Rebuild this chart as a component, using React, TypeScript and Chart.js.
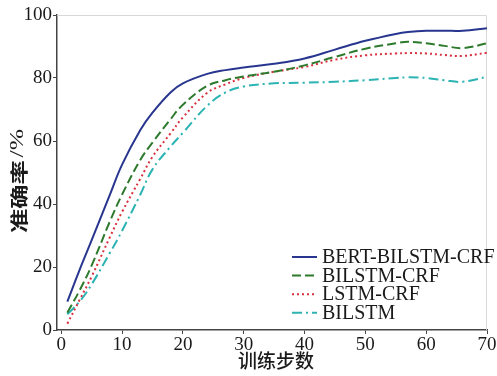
import React, { useEffect, useRef } from "react";
import { Chart, registerables } from "chart.js";

Chart.register(...registerables);

const steps = [1, 3, 5, 8, 10, 13, 15, 18, 20, 24, 27, 30, 35, 40, 45, 50, 55, 57, 60, 63, 66, 70];
const bertBilstmCrf = [9, 19, 28.5, 43, 52.5, 63.5, 69, 75.5, 78.3, 81.3, 82.5, 83.3, 84.5, 86.2, 89, 91.8, 94, 94.6, 95, 95, 95, 95.8];
const bilstmCrf = [5.5, 12.5, 20.5, 34.5, 43, 54, 59.5, 67, 71.5, 77.5, 79.3, 80.5, 82, 84, 86.7, 89.3, 91, 91.5, 91, 90.2, 89.5, 91];
const lstmCrf = [2, 9.5, 17, 29.5, 37.5, 48, 55, 62.5, 67.5, 75.3, 78, 80, 82, 83.5, 85.8, 87.2, 87.8, 87.9, 87.8, 87.3, 87, 88];
const bilstm = [5, 9, 14.5, 24.5, 31.5, 43, 51, 58.3, 62.6, 71.2, 75.4, 77.3, 78.3, 78.5, 78.8, 79.3, 80, 80.2, 80, 79.3, 78.8, 80.4];

const seriesNames = ["BERT-BILSTM-CRF", "BILSTM-CRF", "LSTM-CRF", "BILSTM"];
const xTicks = [0, 10, 20, 30, 40, 50, 60, 70];
const yTicks = [0, 20, 40, 60, 80, 100];
const xTitle = "训练步数";
const yTitleMain = "准确率";
const yTitleUnit = "/%";

const SERIF = "'Liberation Serif', 'Times New Roman', serif";
const CJK = "'Noto Sans CJK SC', 'Liberation Serif', sans-serif";

export default function App() {
  const ref = useRef<HTMLCanvasElement | null>(null);

  useEffect(() => {
    document.body.style.margin = "0";
    const canvas = ref.current;
    if (!canvas) return;

    const styles = [
      { color: "#28368f", dash: [] as number[] },
      { color: "#2d7a2d", dash: [9, 4] },
      { color: "#d9303e", dash: [2, 3] },
      { color: "#2cb3b3", dash: [10, 4, 2, 4] },
    ];
    const values = [bertBilstmCrf, bilstmCrf, lstmCrf, bilstm];

    const datasets = values.map((vals, i) => ({
      label: seriesNames[i],
      data: steps.map((s, j) => ({ x: s, y: vals[j] })),
      borderColor: styles[i].color,
      backgroundColor: styles[i].color,
      borderDash: styles[i].dash,
      borderWidth: 2,
      pointRadius: 0,
      tension: 0.4,
      fill: false,
    }));

    const decor = {
      id: "decor",
      beforeDatasetsDraw(chart: any) {
        const { ctx, chartArea: a } = chart;
        ctx.save();
        ctx.strokeStyle = "#d8d8d8";
        ctx.lineWidth = 1;
        ctx.beginPath();
        ctx.moveTo(a.left, a.top + 0.5);
        ctx.lineTo(a.right - 0.5, a.top + 0.5);
        ctx.lineTo(a.right - 0.5, a.bottom);
        ctx.stroke();
        ctx.restore();
      },
      afterDraw(chart: any) {
        const { ctx, chartArea: a } = chart;
        ctx.save();
        // x axis title
        ctx.fillStyle = "#1a1a1a";
        ctx.textAlign = "center";
        ctx.textBaseline = "middle";
        ctx.font = `500 19px ${CJK}`;
        ctx.fillText(xTitle, (a.left + a.right) / 2 + 4, 361);
        // y axis title (rotated, stretched along the text direction)
        ctx.save();
        ctx.translate(19, 181);
        ctx.rotate(-Math.PI / 2);
        ctx.scale(1.35, 1);
        ctx.font = `bold 18px ${CJK}`;
        const wMain = ctx.measureText(yTitleMain).width;
        ctx.font = `19px ${SERIF}`;
        const wUnit = ctx.measureText(yTitleUnit).width;
        const total = wMain + 2 + wUnit;
        ctx.textAlign = "left";
        ctx.font = `bold 18px ${CJK}`;
        ctx.fillText(yTitleMain, -total / 2, 0);
        ctx.font = `19px ${SERIF}`;
        ctx.fillText(yTitleUnit, -total / 2 + wMain + 2, -1);
        ctx.restore();
        // legend
        const ds = chart.data.datasets;
        ctx.font = `20px ${SERIF}`;
        ctx.textAlign = "left";
        for (let i = 0; i < ds.length; i++) {
          const y = 257 + i * 18.6;
          ctx.save();
          ctx.strokeStyle = ds[i].borderColor;
          ctx.lineWidth = 2;
          ctx.setLineDash(ds[i].borderDash || []);
          ctx.beginPath();
          ctx.moveTo(292, y);
          ctx.lineTo(317, y);
          ctx.stroke();
          ctx.restore();
          ctx.fillStyle = "#1a1a1a";
          ctx.fillText(ds[i].label, 322, y + 1);
        }
        ctx.restore();
      },
    };

    const chart = new Chart(canvas, {
      type: "line",
      data: { datasets },
      options: {
        animation: false,
        responsive: false,
        maintainAspectRatio: false,
        layout: { padding: { top: 15, right: 10, left: 0, bottom: 0 } },
        plugins: { legend: { display: false }, tooltip: { enabled: false } },
        scales: {
          x: {
            type: "linear",
            min: -0.7,
            max: 70,
            afterFit(scale: any) {
              scale.height = 46;
            },
            afterBuildTicks(scale: any) {
              scale.ticks = xTicks.map((v) => ({ value: v }));
            },
            border: { color: "#444", width: 1.5 },
            grid: { display: true, drawOnChartArea: false, drawTicks: true, tickLength: 4, color: "#444" },
            ticks: {
              font: { family: SERIF, size: 19 },
              color: "#1a1a1a",
              padding: 0,
              maxRotation: 0,
              autoSkip: false,
            },
          },
          y: {
            type: "linear",
            min: 0,
            max: 100,
            afterFit(scale: any) {
              scale.width = 57;
            },
            afterBuildTicks(scale: any) {
              scale.ticks = yTicks.map((v) => ({ value: v }));
            },
            border: { color: "#444", width: 1.5 },
            grid: { display: true, drawOnChartArea: false, drawTicks: true, tickLength: 4, color: "#444" },
            ticks: {
              font: { family: SERIF, size: 19 },
              color: "#1a1a1a",
              padding: 1,
              autoSkip: false,
            },
          },
        },
      },
      plugins: [decor],
    });

    return () => chart.destroy();
  }, []);

  return (
    <div style={{ position: "absolute", left: 0, top: 0, width: 497, height: 376, background: "#fff" }}>
      <canvas ref={ref} width={497} height={376} style={{ width: 497, height: 376, display: "block" }} />
    </div>
  );
}
